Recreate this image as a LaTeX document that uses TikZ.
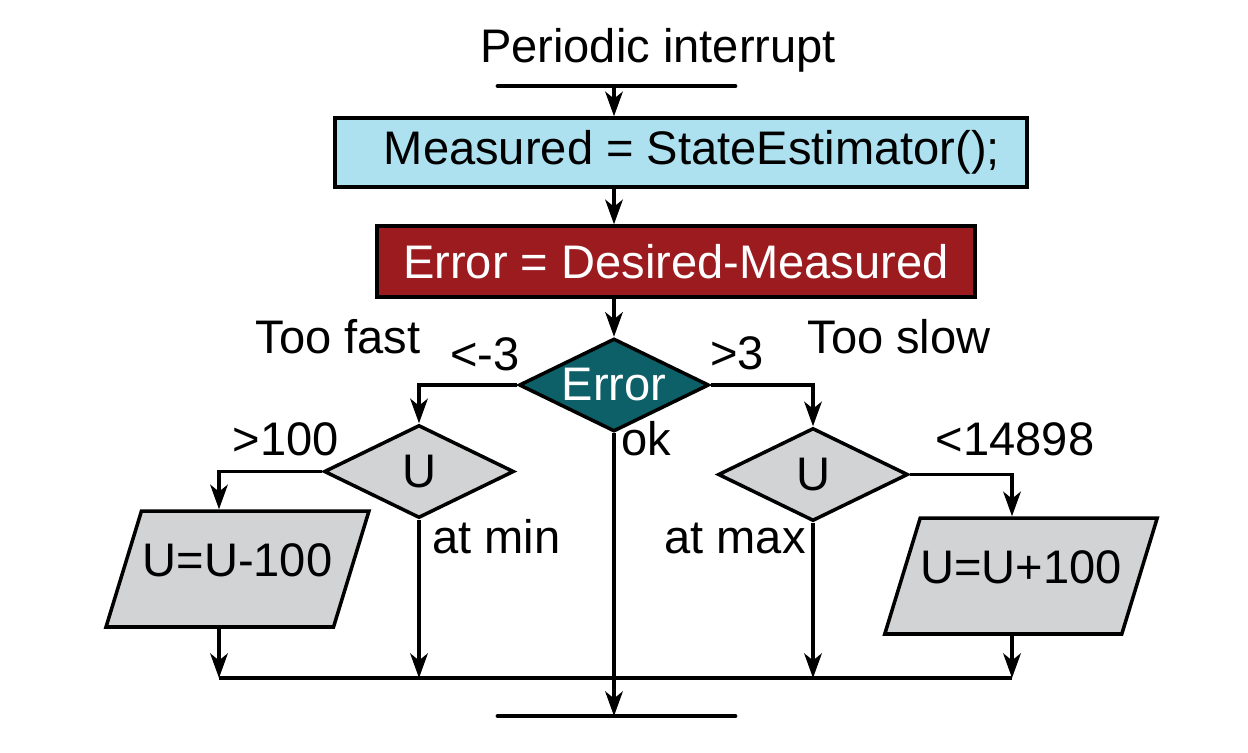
\documentclass[tikz,border=0pt]{standalone}
\usepackage{fontspec}
\setmainfont{Liberation Sans}
\usepackage{xcolor}
\usepackage{tikz}
\usetikzlibrary{shapes.geometric,arrows.meta}
\definecolor{measblue}{HTML}{ADE1F0}
\definecolor{errred}{HTML}{9B1B1F}
\definecolor{decteal}{HTML}{0E6068}
\definecolor{ugray}{HTML}{D1D3D4}
\tikzset{
  procbox/.style={draw, line width=2pt, inner sep=0},
  decision/.style={diamond, aspect=2, draw, line width=2pt, inner sep=0, minimum width=3.8cm, minimum height=1.86cm},
  iobox/.style={trapezium, trapezium left angle=73, trapezium right angle=107, trapezium stretches body=true, draw, line width=2pt, fill=ugray, text height=19pt, text depth=10pt, inner xsep=0, inner ysep=18.5pt, minimum width=5.26cm},
  flow/.style={line width=2pt, -{Stealth[length=14pt,width=10pt,inset=4pt]}},
  bar/.style={line width=2.8pt, line cap=round},
  lbl/.style={anchor=base, inner sep=0}
}

\begin{document}
\begin{tikzpicture}[x=0.02cm, y=-0.02cm, font=\fontsize{26.8}{32}\selectfont]
\useasboundingbox (0,0) rectangle (1248,752);
\node[lbl] (title) at (658,62) {Periodic interrupt};
\coordinate (in) at (614,86);
\coordinate (out) at (614,716);
\draw[bar] (498,86) -- (735,86);
\draw[bar] (498,716) -- (735,716);
\node[procbox, fill=measblue, minimum width=13.84cm, minimum height=1.38cm] (meas) at (681,152.5) {\hspace*{0.44cm}Measured = StateEstimator();};
\node[procbox, fill=errred, text=white, minimum width=11.96cm, minimum height=1.42cm] (err) at (676,261.5) {Error = Desired-Measured};
\node[decision, fill=decteal, text=white] (errdec) at (614,385) {Error};
\node[decision, fill=ugray] (ufast) at (419,471.5) {U};
\node[decision, fill=ugray] (uslow) at (813,474.5) {U};
\node[iobox] (dec) at (237.5,569) {U=U-100};
\node[iobox] (inc) at (1021,576) {U=U+100};
\coordinate (ml) at (219,678);
\coordinate (mr) at (1012,678);
\node[lbl] (fast) at (338,353) {Too fast};
\node[lbl] (lt) at (485,370) {<-3};
\node[lbl] (gt) at (737,369) {>3};
\node[lbl] (slow) at (899,353) {Too slow};
\node[lbl] (gtu) at (286,455) {>100};
\node[lbl] (ltu) at (1015,455) {<14898};
\node[lbl] (ok) at (646,455) {ok};
\node[lbl, anchor=base west] (min) at (432,553) {at min};
\node[lbl, anchor=base east] (max) at (806,553) {at max};
\draw[flow] (in) -- (in |- meas.north);
\draw[flow] (in |- meas.south) -- (in |- err.north);
\draw[flow] (in |- err.south) -- (errdec.north);
\draw[flow] (errdec.west) -| (ufast.north);
\draw[flow] (errdec.east) -| (uslow.north);
\draw[flow] (ufast.west) -| (dec.north -| ml);
\draw[flow] (uslow.east) -| (inc.north -| mr);
\draw[flow] (dec.south -| ml) -- (ml);
\draw[flow] (ufast.south) -- (ufast |- ml);
\draw[flow] (uslow.south) -- (uslow |- ml);
\draw[flow] (inc.south -| mr) -- (mr);
\draw[flow] (errdec.south) -- (out);
\draw[line width=2pt] (ml) -- (mr);
\end{tikzpicture}
\end{document}
